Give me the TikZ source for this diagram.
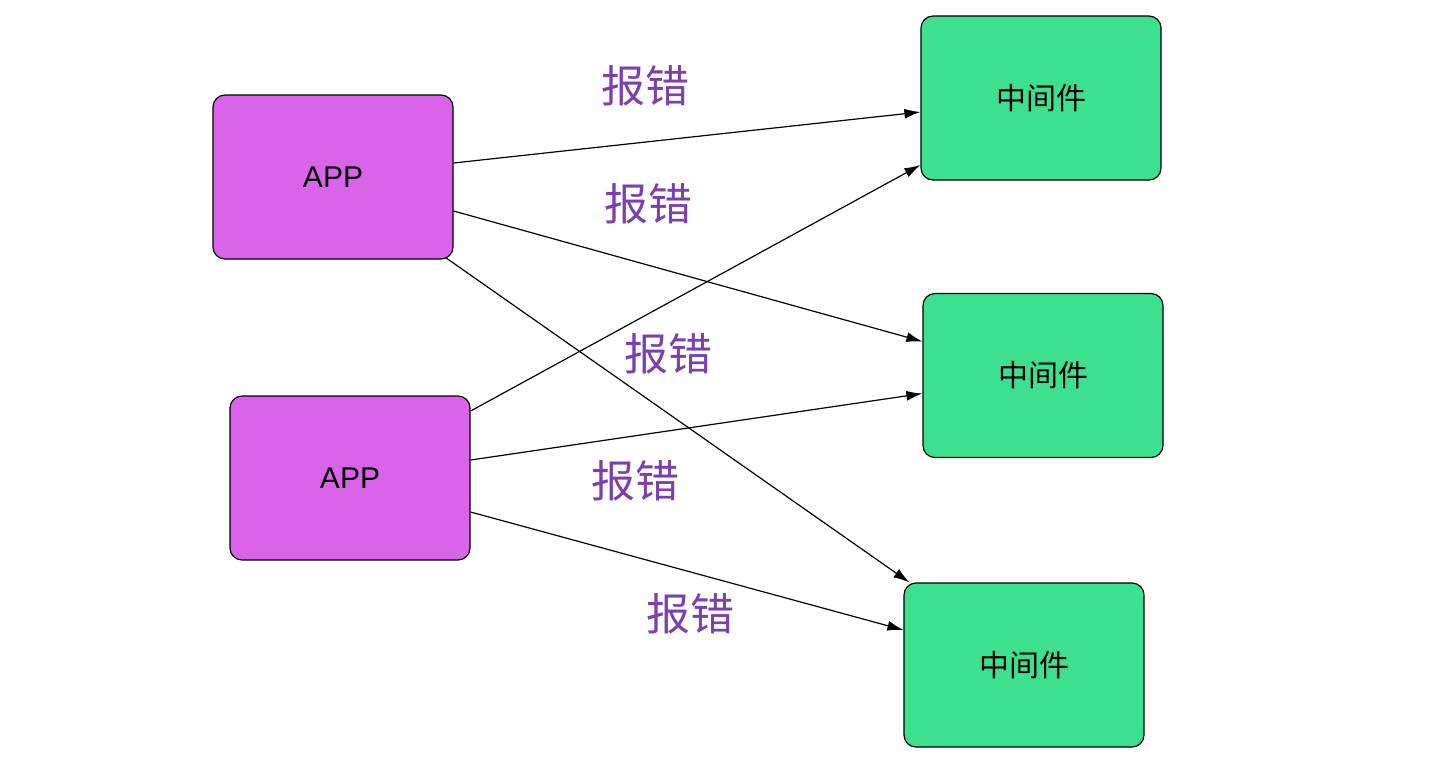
\documentclass[tikz,border=0pt]{standalone}
\usepackage{fontspec}
\setmainfont{Liberation Sans}
\newfontfamily\cjk{Noto Sans CJK SC}
\usetikzlibrary{arrows.meta}
\definecolor{appc}{HTML}{D963E9}
\definecolor{midc}{HTML}{3CE08F}
\definecolor{errc}{HTML}{7B3FB0}
\begin{document}
\begin{tikzpicture}[x=0.5pt,y=-0.5pt,
  box/.style={draw=black,line width=0.6pt,rounded corners=6pt,minimum width=120pt,minimum height=82pt,font=\fontsize{15}{18}\selectfont},
  app/.style={box,fill=appc},
  mid/.style={box,fill=midc,font=\cjk\fontsize{15}{18}\selectfont},
  err/.style={text=errc,font=\cjk\fontsize{22}{26}\selectfont},
  arr/.style={line width=0.6pt,-{Latex[length=8pt,width=5pt]}}]
\useasboundingbox (0,0) rectangle (1454,768);
\node[app] (a1) at (333,177) {APP};
\node[app] (a2) at (350,478) {APP};
\node[mid] (m1) at (1041,98) {中间件};
\node[mid] (m2) at (1043,375.5) {中间件};
\node[mid] (m3) at (1024,665) {中间件};
\draw[arr] ([yshift=7pt]a1.east) -- ([yshift=-7pt]m1.west);
\draw[arr] ([yshift=-17pt]a1.east) -- ([yshift=17pt]m2.west);
\draw[arr] ([xshift=-4pt,yshift=1pt]a1.south east) -- ([xshift=3pt]m3.north west);
\draw[arr] ([yshift=33.5pt]a2.east) -- ([yshift=-33.5pt]m1.west);
\draw[arr] ([yshift=9pt]a2.east) -- ([yshift=-9pt]m2.west);
\draw[arr] ([yshift=-17pt]a2.east) -- ([yshift=17.5pt]m3.west);
\node[err] (e1) at (645,86) {报错};
\node[err] (e2) at (648,204) {报错};
\node[err] (e3) at (668,354) {报错};
\node[err] (e4) at (635,481) {报错};
\node[err] (e5) at (690,614) {报错};
\end{tikzpicture}
\end{document}
